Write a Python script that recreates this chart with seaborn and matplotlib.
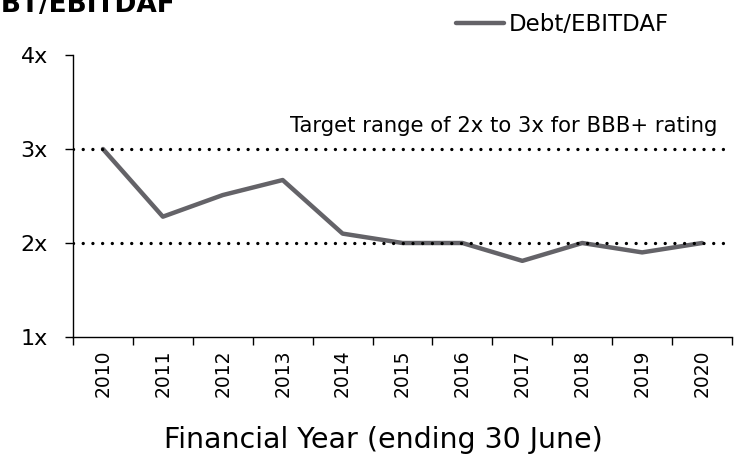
import matplotlib
matplotlib.use("Agg")
import matplotlib.pyplot as plt
import seaborn as sns
import pandas as pd
from matplotlib.ticker import FixedLocator

years = ["2010", "2011", "2012", "2013", "2014", "2015", "2016", "2017", "2018", "2019", "2020"]
debt_ebitdaf = [3.0, 2.28, 2.51, 2.67, 2.10, 2.0, 2.0, 1.81, 2.0, 1.90, 2.0]
y_ticks = [1, 2, 3, 4]
y_tick_labels = ["1x", "2x", "3x", "4x"]
target_levels = [2, 3]

sns.set_theme(style="white")
plt.rcParams['font.family'] = ['DejaVu Sans']
plt.rcParams['text.color'] = 'black'
plt.rcParams['xtick.color'] = 'black'
plt.rcParams['ytick.color'] = 'black'
plt.rcParams['axes.labelcolor'] = 'black'

df = pd.DataFrame({"idx": range(len(years)), "year": years, "value": debt_ebitdaf})

fig = plt.figure(figsize=(7.45, 4.61), dpi=100)
ax = fig.add_axes([73/745, 1 - 337/461, (732-73)/745, (337-55)/461])

sns.lineplot(data=df, x="idx", y="value", ax=ax, color="#646368", linewidth=3.2,
             label="Debt/EBITDAF", zorder=2)

for lv in target_levels:
    ax.axhline(lv, color="black", linewidth=2.4, linestyle=(0, (0.01, 2.9)),
               dash_capstyle="round", zorder=3)

ax.set_xlim(-0.5, len(years) - 0.5)
ax.set_ylim(1, 4)
ax.set_yticks(y_ticks)
ax.set_yticklabels(y_tick_labels, fontsize=16)
ax.set_xticks(range(len(years)))
ax.set_xticklabels(years, rotation=90, fontsize=13.5)
ax.xaxis.set_minor_locator(FixedLocator([i - 0.5 for i in range(len(years) + 1)]))
ax.tick_params(axis="x", which="major", length=0, pad=9)
ax.tick_params(axis="x", which="minor", length=6, width=1, color="black", direction="out", bottom=True)
ax.tick_params(axis="y", length=6, width=1, color="black", direction="out", left=True, pad=12)

for s in ["top", "right"]:
    ax.spines[s].set_visible(False)
for s in ["left", "bottom"]:
    ax.spines[s].set_color("black")
    ax.spines[s].set_linewidth(1)

ax.set_xlabel("Financial Year (ending 30 June)", fontsize=20.5)
ax.xaxis.set_label_coords((383 - 73) / 659, -(426 - 337) / 282)
ax.set_ylabel("")

ax.text(0.978, 0.75, "Target range of 2x to 3x for BBB+ rating", transform=ax.transAxes,
        ha="right", va="center", fontsize=15.2)

leg = ax.legend(loc="lower right", bbox_to_anchor=(0.918, 1.035), frameon=False,
                fontsize=16.5, handlelength=2.1, handletextpad=0.2, borderaxespad=0.0)

fig.text(175/745, 1 - 12/461, "DEBT/EBITDAF", ha="right", va="baseline",
         fontsize=19, fontweight="bold")

fig.savefig("out.png", dpi=100)
